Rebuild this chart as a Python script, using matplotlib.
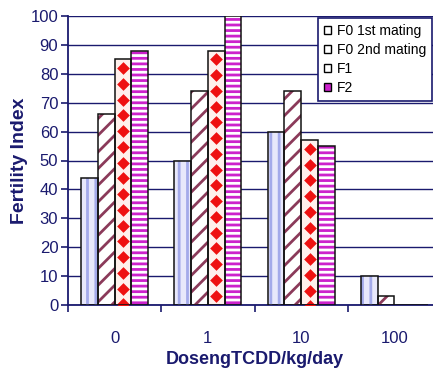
import numpy as np
import matplotlib
matplotlib.use("Agg")
import matplotlib.pyplot as plt
from matplotlib.patches import Patch

categories = ["0", "1", "10", "100"]
series_names = ["F0 1st mating", "F0 2nd mating", "F1", "F2"]
f0_first = [44, 50, 60, 10]
f0_second = [66, 74, 74, 3]
f1 = [85, 88, 57, 0]
f2 = [88, 100, 55, 0]

navy = "#1a1a6e"
plt.rcParams["font.family"] = ["Liberation Sans Narrow", "Liberation Sans", "DejaVu Sans"]
plt.rcParams["hatch.linewidth"] = 2.0

fig = plt.figure(figsize=(4.33, 3.70), dpi=100)
ax = fig.add_axes([68 / 433, 1 - 305 / 370, 373 / 433, 289 / 370])

x = np.arange(len(categories))
w = 0.18
offsets = (np.arange(4) - 1.5) * w

# face colour, hatch, hatch colour
styles = [
    ("#e8e8fb", "||", "#a4aaea"),
    ("white", "//", "#8b3a5a"),
    ("#fff0ec", None, None),
    ("white", "---", "#cc22cc"),
]
data = [f0_first, f0_second, f1, f2]

for vals, off, (fc, hatch, hc) in zip(data, offsets, styles):
    ax.bar(x + off, vals, w, color=fc, edgecolor="none", zorder=2)
    if hatch:
        ax.bar(x + off, vals, w, facecolor="none", edgecolor=hc, hatch=hatch,
               linewidth=0, zorder=3)
    ax.bar(x + off, vals, w, facecolor="none", edgecolor="#111111",
           linewidth=1.1, zorder=4)

# diamonds on the F1 bars
for xi, v in zip(x + offsets[2], f1):
    if v <= 0:
        continue
    ys = np.arange(v - 3.0, -2, -5.45)
    ax.scatter(np.full(len(ys), xi), ys, marker="D", s=42, color="#ee1111",
               linewidths=0, zorder=3.5, clip_on=True)

ax.set_xlim(-0.5, 3.5)
ax.set_ylim(0, 100)
ax.set_yticks(range(0, 101, 10))
ax.yaxis.grid(True, color=navy, linewidth=1.0, zorder=0)
ax.set_axisbelow(True)

ax.set_xticks(np.arange(-0.5, 3.5, 1.0))
ax.set_xticklabels([])
ax.set_xticks(x, minor=True)
ax.set_xticklabels(categories, minor=True)
ax.tick_params(axis="x", which="major", direction="out", length=5, color=navy, width=1.2)
ax.tick_params(axis="x", which="minor", length=0, pad=19, labelsize=12, labelcolor=navy)
ax.tick_params(axis="y", direction="out", length=5, color=navy, width=1.2,
               labelsize=12, labelcolor=navy, pad=2)

for s in ["top", "right"]:
    ax.spines[s].set_visible(False)
for s in ["left", "bottom"]:
    ax.spines[s].set_color(navy)
    ax.spines[s].set_linewidth(1.3)

ax.set_ylabel("Fertility Index", fontsize=14, fontweight="bold", color=navy, labelpad=2)
ax.set_xlabel("DosengTCDD/kg/day", fontsize=13, fontweight="bold", color=navy, labelpad=3)

handles = [
    Patch(facecolor="white", edgecolor="black", linewidth=1),
    Patch(facecolor="white", edgecolor="black", linewidth=1),
    Patch(facecolor="white", edgecolor="black", linewidth=1),
    Patch(facecolor="#cc22cc", edgecolor="black", linewidth=1),
]
leg = fig.legend(handles, series_names, loc="upper left",
                 bbox_to_anchor=(318 / 433, 1 - 18 / 370), fontsize=10,
                 handlelength=0.5, handleheight=0.5, handletextpad=0.4,
                 labelspacing=0.35, borderpad=0.45, borderaxespad=0,
                 fancybox=False, framealpha=1)
leg.get_frame().set_edgecolor(navy)
leg.get_frame().set_linewidth(1.2)

fig.savefig("out.png", dpi=100)
